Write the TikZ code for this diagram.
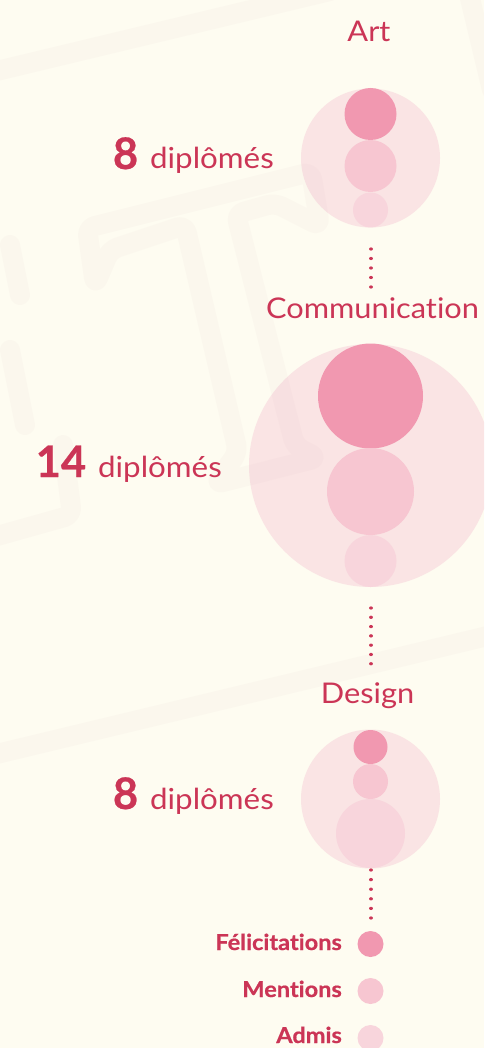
\documentclass[tikz,border=0pt]{standalone}
\usepackage{fontspec}
\setmainfont{Lato}[Ligatures={NoCommon}]
\definecolor{bgc}{HTML}{FEFCF1}
\definecolor{txtc}{HTML}{CB3556}
\definecolor{felc}{HTML}{F198B0}
\definecolor{menc}{HTML}{F7C6D1}
\definecolor{admc}{HTML}{F8D5DC}
\definecolor{allc}{HTML}{FAE4E4}
\definecolor{wmc}{HTML}{C89AA0}
\tikzset{
  disc/.style={circle, draw=none, inner sep=0pt, minimum size=#1},
  fel/.style={disc=#1, fill=felc},
  men/.style={disc=#1, fill=menc},
  adm/.style={disc=#1, fill=admc},
  allb/.style={disc=#1, fill=allc},
  lbl/.style={text=txtc, inner sep=0pt, font=\fontsize{28.5}{30}\selectfont},
  cnt/.style={text=txtc, inner sep=0pt, font=\fontsize{29}{30}\selectfont},
  lgd/.style={text=txtc, inner sep=0pt, font=\bfseries\fontsize{22}{23}\selectfont\addfontfeature{FakeBold=0.6}},
  dotline/.style={draw=txtc, line width=3.3pt, line cap=round, dash pattern=on 0.01pt off #1pt},
  wm/.style={draw=wmc, draw opacity=0.045, line width=20pt, line cap=round, line join=round, rounded corners=8pt},
}
\newcommand{\bignum}[1]{{\bfseries\fontsize{43.5}{44}\selectfont\addfontfeature{FakeBold=0.6}#1}}
\newcommand{\widetxt}[1]{\scalebox{1.08}[1]{#1}}
\begin{document}
\begin{tikzpicture}[x=1pt,y=-1pt]
\useasboundingbox (0,0) rectangle (484,1048);
\begin{scope}
\clip (0,0) rectangle (484,1048);
\fill[bgc] (0,0) rectangle (484,1048);

% Art
\node[allb=139pt] (artall) at (370.5,158) {};
\node[fel=52pt] (artfel) at (370.5,114) {};
\node[men=52pt] (artmen) at (370.5,166) {};
\node[adm=35pt] (artadm) at (370.5,210) {};

% Communication
\node[allb=243pt] (comall) at (370.5,465.5) {};
\node[fel=105pt] (comfel) at (370.5,396) {};
\node[men=87pt] (commen) at (370.5,491.5) {};
\node[adm=52pt] (comadm) at (370.5,561) {};

% Design
\node[allb=139pt] (desall) at (370.5,799) {};
\node[fel=34pt] (desfel) at (370.5,747) {};
\node[men=35pt] (desmen) at (370.5,781.5) {};
\node[adm=69pt] (desadm) at (370.5,833.5) {};

% legend discs
\node[fel=26pt] (lfel) at (370.5,944) {};
\node[men=26pt] (lmen) at (370.5,991) {};
\node[adm=26pt] (ladm) at (370.5,1038) {};

% watermark
\draw[wm] (-20,75) -- (330,-9);
\draw[wm] (-20,758) -- (500,633);
\draw[wm] (468,-10) -- (492,90);
\draw[wm] (87,228) -- (311,172) -- (320,226) -- (275,203) -- (236,214) -- (295,446) -- (318,458) -- (215,484) -- (238,452) -- (185,225) -- (110,250) -- (95,285) -- cycle;
\draw[wm] (10,245) -- (20,295);
\draw[wm] (10,350) -- (25,425);
\draw[wm] (63,445) -- (72,515) -- (-10,538);
\end{scope}

% dotted connectors
\coordinate (a1) at (371,249);
\coordinate (a2) at (371,287);
\coordinate (b1) at (371,608);
\coordinate (b2) at (371,673);
\coordinate (c1) at (371,870);
\coordinate (c2) at (371,918);
\draw[dotline=9.49] (a1) -- (a2);
\draw[dotline=9.28] (b1) -- (b2);
\draw[dotline=9.59] (c1) -- (c2);

% titles
\node[lbl, anchor=base] (tart) at (369,42) {\widetxt{Art}};
\node[lbl, anchor=base] (tcom) at (372.5,318) {\widetxt{Communication}};
\node[lbl, anchor=base] (tdes) at (367.5,703) {\widetxt{Design}};

% counts
\node[cnt, anchor=base east] (nart) at (274,169) {\bignum{8}\hspace{12pt}\widetxt{diplômés}};
\node[cnt, anchor=base east] (ncom) at (222,477) {\bignum{14}\hspace{12pt}\widetxt{diplômés}};
\node[cnt, anchor=base east] (ndes) at (274,809) {\bignum{8}\hspace{12pt}\widetxt{diplômés}};

% legend
\node[lgd, anchor=base east] (tfel) at (342,950) {\scalebox{1.07}[1]{Félicitations}};
\node[lgd, anchor=base east] (tmen) at (342,997) {\scalebox{1.07}[1]{Mentions}};
\node[lgd, anchor=base east] (tadm) at (342,1043) {\scalebox{1.07}[1]{Admis}};
\end{tikzpicture}
\end{document}
